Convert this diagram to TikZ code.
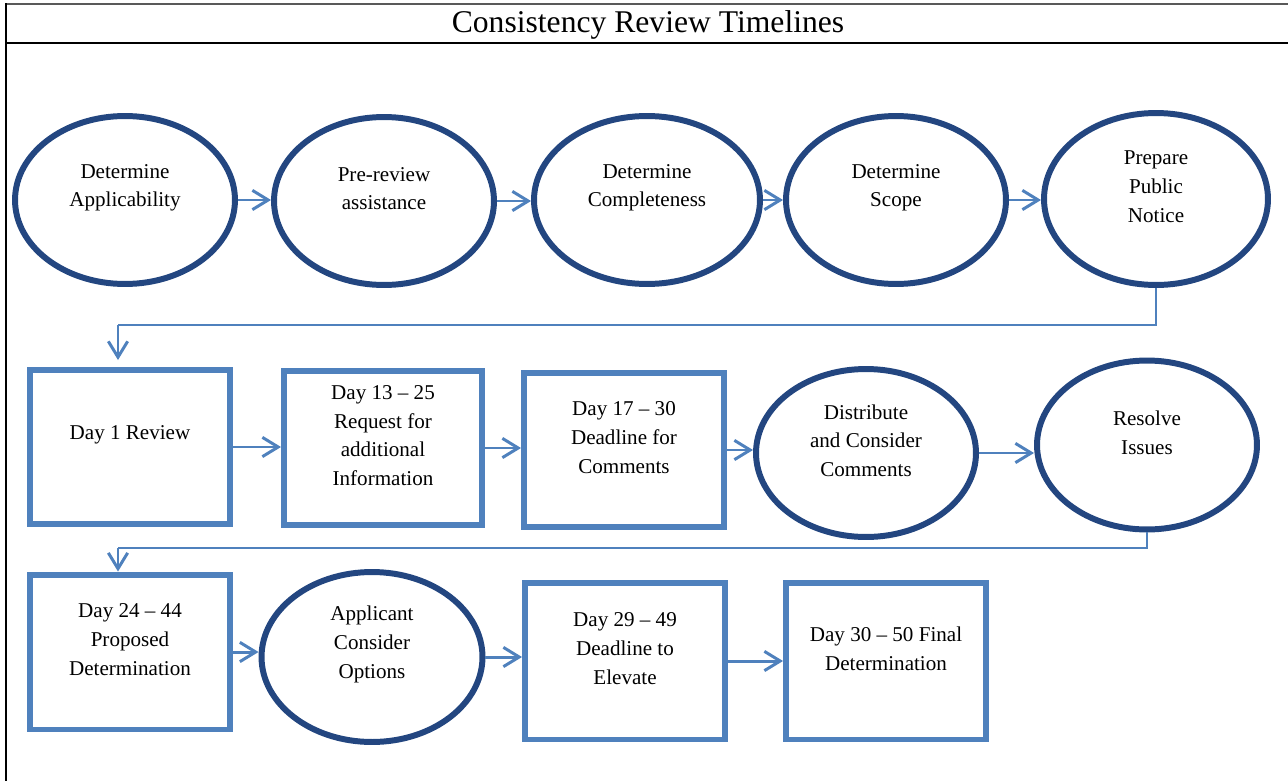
\documentclass[tikz,border=0pt]{standalone}
\usepackage{fontspec}
\setmainfont{Liberation Serif}
\usetikzlibrary{shapes.geometric,arrows.meta,positioning}
\definecolor{crnavy}{RGB}{35,70,128}
\definecolor{crblue}{RGB}{79,129,189}
\tikzstyle{arrow} = [line width=1.7pt, color=crblue, -{Straight Barb[length=9pt,width=11pt]}]
\tikzstyle{link} = [line width=1.1pt, color=crblue]
\tikzstyle{stage} = [ellipse, draw=crnavy, line width=3.4pt, minimum width=4.4cm, minimum height=3.36cm]
\tikzstyle{daybox} = [rectangle, draw=crblue, line width=3.4pt, minimum width=4cm, minimum height=3.08cm]
\tikzstyle{txt} = [align=center, font=\fontsize{12}{16.4}\selectfont, yshift=7pt]

\begin{document}
\begin{tikzpicture}[x=0.02cm, y=-0.02cm]
\useasboundingbox (0,0) rectangle (1288,781);

% Frame and title
\draw[line width=1.6pt, black!65] (6,4) -- (1288,4);
\draw[line width=1.2pt] (6,43) -- (1288,43);
\draw[line width=1.2pt] (6,3) -- (6,781);
\node (title) at (648,25) {\fontsize{18}{22}\selectfont Consistency Review Timelines};

% First row
\node[stage, label={[txt]center:Determine\\Applicability}] (e1) at (125,200) {};
\node[stage, label={[txt]center:Pre-review\\assistance}] (e2) at (384,201) {};
\node[stage, minimum width=4.52cm, label={[txt]center:Determine\\Completeness}] (e3) at (647,200) {};
\node[stage, label={[txt]center:Determine\\Scope}] (e4) at (896,200) {};
\node[stage, minimum width=4.48cm, minimum height=3.44cm, label={[txt]center:Prepare\\Public\\Notice}] (e5) at (1156,199) {};

% Second row
\node[daybox, label={[txt]center:Day 1 Review}] (b1) at (130,447) {};
\node[daybox, minimum width=3.96cm, label={[txt]center:Day 13 -- 25\\Request for\\additional\\Information}] (b2) at (383,448) {};
\node[daybox, label={[txt]center:Day 17 -- 30\\Deadline for\\Comments}] (b3) at (624,450) {};
\node[stage, minimum height=3.36cm, label={[txt]center:Distribute\\and Consider\\Comments}] (e6) at (866,453) {};
\node[stage, minimum height=3.38cm, label={[txt]center:Resolve\\Issues}] (e7) at (1147,445) {};

% Third row
\node[daybox, minimum height=3.1cm, label={[txt]center:Day 24 -- 44\\Proposed\\Determination}] (b4) at (130,652) {};
\node[stage, minimum width=4.42cm, minimum height=3.4cm, label={[txt]center:Applicant\\Consider\\Options}] (e8) at (372,657) {};
\node[daybox, minimum height=3.14cm, label={[txt]center:Day 29 -- 49\\Deadline to\\Elevate}] (b5) at (625,661) {};
\node[daybox, minimum height=3.14cm, label={[txt]center:Day 30 -- 50 Final\\Determination}] (b6) at (886,661) {};

% Arrows along the rows
\draw[arrow] (e1.east) -- (e1.east -| e2.west);
\draw[arrow] (e2.east) -- (e2.east -| e3.west);
\draw[arrow] (e3.east) -- (e3.east -| e4.west);
\draw[arrow] (e4.east) -- (e4.east -| e5.west);
\draw[arrow] (b1.east) -- (b1.east -| b2.west);
\draw[arrow] (b2.east) -- (b2.east -| b3.west);
\draw[arrow] (b3.east) -- (b3.east -| e6.west);
\draw[arrow] (e6.east) -- (e6.east -| e7.west);
\draw[arrow] (b4.east) -- (b4.east -| e8.west);
\draw[arrow] (e8.east) -- (e8.east -| b5.west);
\draw[arrow] (b5.east) -- (b5.east -| b6.west);

% Row changes
\coordinate (t1) at (118,325);
\coordinate (t2) at (118,548);
\draw[link] (e5.south) |- (t1);
\draw[arrow, shorten >=4pt] (t1) -- (t1 |- b1.north);
\draw[link] (e7.south) |- (t2);
\draw[arrow] (t2) -- (t2 |- b4.north);
\end{tikzpicture}
\end{document}
